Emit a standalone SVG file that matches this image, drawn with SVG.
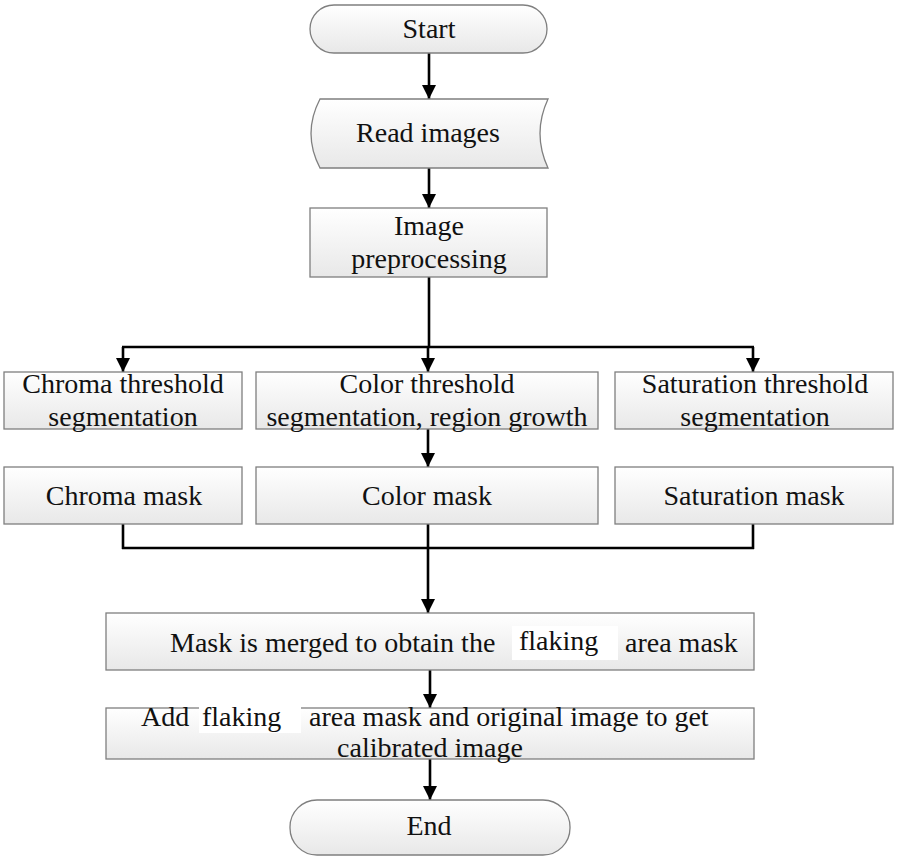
<svg xmlns="http://www.w3.org/2000/svg" width="898" height="860" viewBox="0 0 898 860">
<defs>
<linearGradient id="g" x1="0" y1="0" x2="0" y2="1">
<stop offset="0" stop-color="#ffffff"/>
<stop offset="1" stop-color="#e8e8e8"/>
</linearGradient>
<marker id="ah" viewBox="0 0 10 10" refX="10" refY="5" markerWidth="5.5" markerHeight="5.5" orient="auto" markerUnits="strokeWidth">
<path d="M0,0 L10,5 L0,10 z" fill="#000"/>
</marker>
</defs>
<style>
.box{fill:url(#g);stroke:#7f7f7f;stroke-width:1.3}
.t{font-family:"Liberation Serif","Times New Roman",serif;font-size:28px;fill:#111}
.c{text-anchor:middle}
.ln{fill:none;stroke:#000;stroke-width:2.6}
.ar{fill:none;stroke:#000;stroke-width:2.6;marker-end:url(#ah)}
</style>
<rect width="898" height="860" fill="#fff"/>
<g id="connectors">
<line class="ar" x1="429" y1="53" x2="429" y2="99"/>
<line class="ar" x1="429" y1="168" x2="429" y2="208"/>
<line class="ln" x1="429" y1="277" x2="429" y2="348"/>
<line class="ln" x1="122" y1="347" x2="754" y2="347"/>
<line class="ar" x1="123" y1="347" x2="123" y2="372"/>
<line class="ar" x1="428" y1="347" x2="428" y2="372"/>
<line class="ar" x1="753" y1="347" x2="753" y2="372"/>
<line class="ar" x1="428" y1="429" x2="428" y2="467"/>
<line class="ln" x1="123" y1="524" x2="123" y2="549"/>
<line class="ln" x1="428" y1="524" x2="428" y2="549"/>
<line class="ln" x1="753" y1="524" x2="753" y2="549"/>
<line class="ln" x1="122" y1="548" x2="754" y2="548"/>
<line class="ar" x1="428" y1="548" x2="428" y2="613"/>
<line class="ar" x1="430" y1="670" x2="430" y2="708"/>
<line class="ar" x1="430" y1="759" x2="430" y2="800"/>
</g>
<g id="start">
<rect class="box" x="310" y="5" width="237" height="48" rx="24"/>
<text class="t c" x="429" y="38">Start</text>
</g>
<g id="read">
<path class="box" d="M320,99 L548,99 Q532,133.5 548,168 L320,168 Q302,133.5 320,99 Z"/>
<text class="t c" x="428" y="142">Read images</text>
</g>
<g id="preprocess">
<rect class="box" x="310" y="208" width="237" height="69"/>
<text class="t c" x="429" y="235">Image</text>
<text class="t c" x="429" y="268">preprocessing</text>
</g>
<g id="chroma-seg">
<rect class="box" x="4" y="372" width="238" height="57"/>
<text class="t c" x="123" y="393">Chroma threshold</text>
<text class="t c" x="123" y="426">segmentation</text>
</g>
<g id="color-seg">
<rect class="box" x="256" y="372" width="342" height="57"/>
<text class="t c" x="427" y="393">Color threshold</text>
<text class="t c" x="427" y="426">segmentation, region growth</text>
</g>
<g id="sat-seg">
<rect class="box" x="615" y="372" width="278" height="57"/>
<text class="t c" x="755" y="393">Saturation threshold</text>
<text class="t c" x="755" y="426">segmentation</text>
</g>
<g id="chroma-mask">
<rect class="box" x="4" y="467" width="238" height="57"/>
<text class="t c" x="124" y="505">Chroma mask</text>
</g>
<g id="color-mask">
<rect class="box" x="256" y="467" width="342" height="57"/>
<text class="t c" x="427" y="505">Color mask</text>
</g>
<g id="sat-mask">
<rect class="box" x="615" y="467" width="278" height="57"/>
<text class="t c" x="754" y="505">Saturation mask</text>
</g>
<g id="merge">
<rect class="box" x="106" y="613" width="648" height="57"/>
<rect x="512" y="626" width="106" height="34" fill="#fff"/>
<text class="t" x="170" y="652">Mask is merged to obtain the</text>
<text class="t" x="519" y="650">flaking</text>
<text class="t" x="625" y="652">area mask</text>
</g>
<g id="add">
<rect class="box" x="106" y="708" width="648" height="51"/>
<rect x="199" y="703" width="102" height="30" fill="#fff"/>
<text class="t" x="141" y="726">Add</text>
<text class="t" x="202" y="726">flaking</text>
<text class="t" x="309" y="726">area mask and original image to get</text>
<text class="t c" x="430" y="757">calibrated image</text>
</g>
<g id="end">
<rect class="box" x="290" y="800" width="280" height="55" rx="27"/>
<text class="t c" x="429" y="835">End</text>
</g>
</svg>
